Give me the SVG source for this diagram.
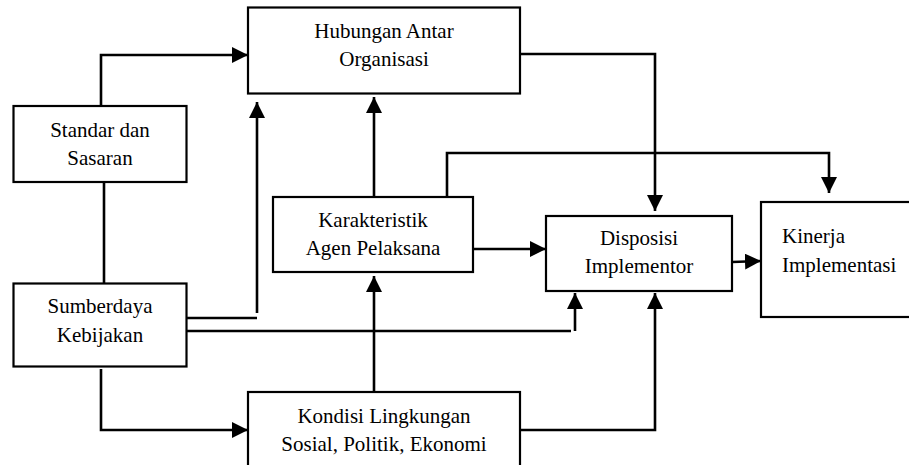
<svg xmlns="http://www.w3.org/2000/svg" width="909" height="465" viewBox="0 0 909 465">
<defs>
<marker id="ah" markerUnits="userSpaceOnUse" markerWidth="16" markerHeight="16" refX="16" refY="8" orient="auto" viewBox="0 0 16 16">
<path d="M0,0 L16,8 L0,16 z" fill="#000"/>
</marker>
</defs>
<rect width="909" height="465" fill="#fff"/>
<g id="connectors" fill="none" stroke="#000" stroke-width="2.6">
<path d="M101,106 V55 H248" marker-end="url(#ah)"/>
<path d="M104,183 V283"/>
<path d="M187,318 H257"/>
<path d="M257,313 V102" marker-end="url(#ah)"/>
<path d="M374,197 V97" marker-end="url(#ah)"/>
<path d="M447,197 V153 H829 V193" marker-end="url(#ah)"/>
<path d="M520,54 H655 V211" marker-end="url(#ah)"/>
<path d="M473,249 H546" marker-end="url(#ah)"/>
<path d="M732,262 L761,261" marker-end="url(#ah)"/>
<path d="M187,331 H571"/>
<path d="M575,331 V293" marker-end="url(#ah)"/>
<path d="M101,369 V430 H248" marker-end="url(#ah)"/>
<path d="M374,392 V276" marker-end="url(#ah)"/>
<path d="M520,430 H655 V293" marker-end="url(#ah)"/>
</g>
<g id="hubungan">
<rect x="248" y="7.5" width="272" height="86" fill="#fff" stroke="#000" stroke-width="2.2"/>
<text x="384" y="38" text-anchor="middle" font-family="'Liberation Serif'" font-size="21">Hubungan Antar</text>
<text x="384" y="66" text-anchor="middle" font-family="'Liberation Serif'" font-size="21">Organisasi</text>
</g>
<g id="standar">
<rect x="13.5" y="106" width="173" height="76" fill="#fff" stroke="#000" stroke-width="2.2"/>
<text x="100" y="137" text-anchor="middle" font-family="'Liberation Serif'" font-size="21">Standar dan</text>
<text x="100" y="165" text-anchor="middle" font-family="'Liberation Serif'" font-size="21">Sasaran</text>
</g>
<g id="karakteristik">
<rect x="273" y="197" width="200" height="75" fill="#fff" stroke="#000" stroke-width="2.2"/>
<text x="373" y="227" text-anchor="middle" font-family="'Liberation Serif'" font-size="21">Karakteristik</text>
<text x="373" y="255" text-anchor="middle" font-family="'Liberation Serif'" font-size="21">Agen Pelaksana</text>
</g>
<g id="disposisi">
<rect x="546" y="216" width="186" height="75" fill="#fff" stroke="#000" stroke-width="2.2"/>
<text x="639" y="245" text-anchor="middle" font-family="'Liberation Serif'" font-size="21">Disposisi</text>
<text x="639" y="273" text-anchor="middle" font-family="'Liberation Serif'" font-size="21">Implementor</text>
</g>
<g id="kinerja">
<rect x="761" y="202" width="160" height="115" fill="#fff" stroke="#000" stroke-width="2.2"/>
<text x="782" y="243" font-family="'Liberation Serif'" font-size="21">Kinerja</text>
<text x="782" y="272" font-family="'Liberation Serif'" font-size="21">Implementasi</text>
</g>
<g id="sumberdaya">
<rect x="13.5" y="283.5" width="173" height="83" fill="#fff" stroke="#000" stroke-width="2.2"/>
<text x="100" y="313" text-anchor="middle" font-family="'Liberation Serif'" font-size="21">Sumberdaya</text>
<text x="100" y="342" text-anchor="middle" font-family="'Liberation Serif'" font-size="21">Kebijakan</text>
</g>
<g id="kondisi">
<rect x="248" y="392" width="272" height="90" fill="#fff" stroke="#000" stroke-width="2.2"/>
<text x="384" y="423" text-anchor="middle" font-family="'Liberation Serif'" font-size="21">Kondisi Lingkungan</text>
<text x="384" y="451" text-anchor="middle" font-family="'Liberation Serif'" font-size="21">Sosial, Politik, Ekonomi</text>
</g>
</svg>
